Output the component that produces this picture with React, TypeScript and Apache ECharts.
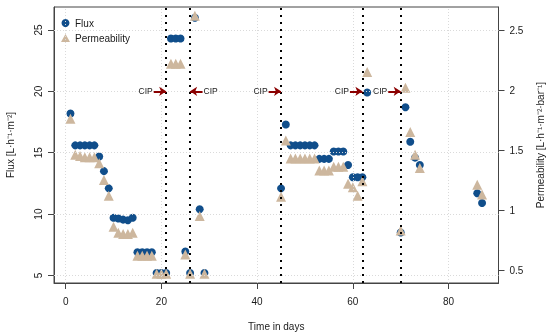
import React, { useEffect, useRef } from "react";
import * as echarts from "echarts";

const days = [
  1, 2, 3, 4, 5, 6, 7, 8, 9, 10, 11, 12, 13, 14, 15, 16, 17, 18, 19, 20, 21, 22, 23, 24, 25, 26, 27, 28, 29,
  45, 46, 47, 48, 49, 50, 51, 52, 53, 54, 55, 56, 57, 58, 59, 60, 61, 62, 63,
  70, 71, 72, 73, 74, 86, 87,
];
const flux = [
  18.2, 15.6, 15.6, 15.6, 15.6, 15.6, 14.7, 13.5, 12.1, 9.7, 9.65, 9.55, 9.5, 9.7, 6.9, 6.9, 6.9, 6.9, 5.2, 5.2, 5.2, 24.3, 24.3, 24.3, 6.95, 5.2, 26.0, 10.4, 5.2,
  12.1, 17.3, 15.6, 15.6, 15.6, 15.6, 15.6, 15.6, 14.5, 14.5, 14.5, 15.1, 15.1, 15.1, 14.0, 13.0, 13.0, 13.0, 19.9,
  8.5, 18.7, 15.9, 14.6, 14.0, 11.7, 10.9,
];
const permeability = [
  1.76, 1.46, 1.45, 1.44, 1.44, 1.44, 1.39, 1.25, 1.12, 0.86, 0.81, 0.8, 0.8, 0.81, 0.62, 0.62, 0.62, 0.62, 0.47, 0.47, 0.47, 2.22, 2.22, 2.22, 0.63, 0.47, 2.62, 0.95, 0.47,
  1.11, 1.58, 1.43, 1.43, 1.43, 1.43, 1.43, 1.43, 1.33, 1.33, 1.33, 1.36, 1.36, 1.36, 1.22, 1.19, 1.12, 1.24, 2.15,
  0.83, 2.02, 1.65, 1.46, 1.35, 1.21, 1.13,
];
const cipDays = [21, 26, 45, 62, 70];
const cipSide = ["left", "right", "left", "left", "left"];
const cipLevel = 20;
const xTicks = [0, 20, 40, 60, 80];
const fluxTicks = [5, 10, 15, 20, 25];
const permTicks = [0.5, 1, 1.5, 2, 2.5];

const FONT = "'Liberation Sans', Arial, Helvetica, sans-serif";
const TXT = "#1a1a1a";
const AX = "#444";

export default function App() {
  const ref = useRef<HTMLDivElement>(null);
  useEffect(() => {
    if (!ref.current) return;
    const chart = echarts.init(ref.current, null, { renderer: "svg" });
    const arrowLen = 2.6;
    const arrows = cipDays.map((d, i) => {
      const s = cipSide[i] === "left" ? d - arrowLen : d + arrowLen;
      return [{ coord: [s, cipLevel] }, { coord: [d, cipLevel] }];
    });
    const gridLines = [
      ...xTicks.map((v) => ({ xAxis: v })),
      ...fluxTicks.map((v) => ({ yAxis: v })),
    ];
    chart.setOption({
      animation: false,
      textStyle: { fontFamily: FONT },
      grid: {
        left: 54,
        right: 51.5,
        top: 7,
        bottom: 53,
        containLabel: false,
        outerBoundsMode: "none",
        show: true,
        borderColor: AX,
        borderWidth: 1,
        backgroundColor: "transparent",
      },
      legend: {
        data: ["Flux", "Permeability"],
        orient: "vertical",
        left: 56,
        top: 13,
        itemWidth: 9,
        itemHeight: 8,
        itemGap: 5,
        textStyle: { fontSize: 10, color: TXT, fontFamily: FONT },
      },
      xAxis: {
        type: "value",
        min: -2.44,
        max: 90.44,
        axisLine: { show: true, onZero: false, lineStyle: { color: AX } },
        axisTick: { show: true, customValues: xTicks, length: 6, lineStyle: { color: AX } },
        axisLabel: { customValues: xTicks, margin: 13, fontSize: 10, color: TXT },
        splitLine: { show: false },
        name: "Time in days",
        nameLocation: "middle",
        nameGap: 38,
        nameTextStyle: { fontSize: 10, color: TXT },
      },
      yAxis: [
        {
          type: "value",
          position: "left",
          min: 4.39,
          max: 26.87,
          axisLine: { show: true, onZero: false, lineStyle: { color: AX } },
          axisTick: { show: true, customValues: fluxTicks, length: 6, lineStyle: { color: AX } },
          axisLabel: { customValues: fluxTicks, margin: 11, fontSize: 10, color: TXT, rotate: 90 },
          splitLine: { show: false },
          name: "Flux [L·h⁻¹·m⁻²]",
          nameLocation: "middle",
          nameGap: 39,
          nameRotate: 90,
          nameTextStyle: { fontSize: 10, color: TXT },
        },
        {
          type: "value",
          position: "right",
          min: 0.392,
          max: 2.692,
          axisLine: { show: true, onZero: false, lineStyle: { color: AX } },
          axisTick: { show: true, customValues: permTicks, length: 6, lineStyle: { color: AX } },
          axisLabel: { customValues: permTicks, margin: 11, fontSize: 10, color: TXT },
          splitLine: { show: false },
          name: "Permeability [L·h⁻¹·m⁻²·bar⁻¹]",
          nameLocation: "middle",
          nameGap: 37,
          nameRotate: 90,
          nameTextStyle: { fontSize: 10, color: TXT },
        },
      ],
      series: [
        {
          name: "grid",
          type: "scatter",
          data: [],
          z: 1,
          silent: true,
          markLine: {
            silent: true,
            symbol: ["none", "none"],
            label: { show: false },
            lineStyle: { color: "#dadada", width: 1, type: [1, 2] },
            data: gridLines,
          },
        },
        {
          name: "Flux",
          type: "scatter",
          yAxisIndex: 0,
          symbol: "circle",
          symbolSize: 8,
          itemStyle: { color: "#104E8B", opacity: 1 },
          data: days.map((d, i) => [d, flux[i]]),
          z: 2,
        },
        {
          name: "Permeability",
          type: "scatter",
          yAxisIndex: 1,
          symbol: "triangle",
          symbolSize: 10,
          itemStyle: { color: "#CDB79E", opacity: 1 },
          data: days.map((d, i) => [d, permeability[i]]),
          z: 3,
        },
        {
          name: "cip",
          type: "scatter",
          yAxisIndex: 0,
          data: [],
          z: 5,
          silent: true,
          markLine: {
            silent: true,
            symbol: ["none", "none"],
            symbolSize: 7,
            data: [
              ...cipDays.map((d) => ({
                xAxis: d,
                lineStyle: { color: "#000", width: 2, type: [2, 5] },
                label: { show: false },
              })),
              ...arrows.map((a) => [
                {
                  ...a[0],
                  symbol: "none",
                  lineStyle: { color: "#8B0000", width: 2, type: "solid" },
                  label: { show: true, position: "start", formatter: "CIP", color: TXT, fontSize: 8.5, distance: 1 },
                },
                { ...a[1], symbol: "arrow", symbolSize: 7 },
              ]),
            ],
          },
        },
      ],
    });
    return () => chart.dispose();
  }, []);
  return (
    <div
      ref={ref}
      style={{ position: "fixed", left: 0, top: 0, width: 550, height: 336 }}
    />
  );
}
